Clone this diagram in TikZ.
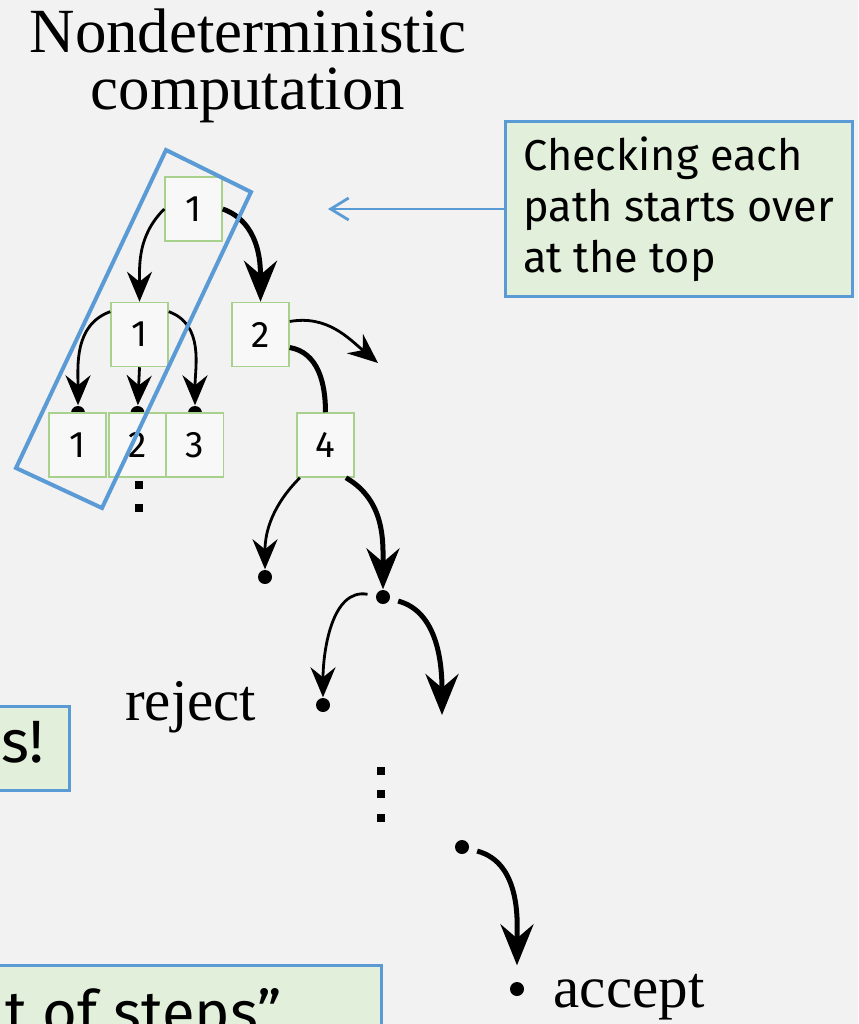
\documentclass[tikz,border=0pt]{standalone}
\usepackage{fontspec}
\setmainfont{Liberation Serif}
\setsansfont{Fira Sans}
\usetikzlibrary{arrows.meta}

\definecolor{slidebg}{HTML}{F2F2F2}
\definecolor{noteblue}{HTML}{5B9BD5}
\definecolor{notegreen}{HTML}{E2EFDA}
\definecolor{cellgreen}{HTML}{A9D18E}
\definecolor{cellfill}{HTML}{F8F8F8}

\tikzset{
	cell/.style={draw=cellgreen, line width=0.15mm, fill=cellfill, minimum width=5.7mm, minimum height=6.4mm, inner sep=0pt, font=\sffamily\fontsize{10.5}{12}\selectfont},
	leaf/.style={circle, fill=black, minimum size=1.4mm, inner sep=0pt},
	thinarc/.style={line width=0.28mm, -{Stealth[length=3mm,width=2.5mm,inset=1mm]}},
	thickline/.style={line width=0.5mm},
	thickarc/.style={thickline, -{Stealth[length=4.1mm,width=3.3mm,inset=1.4mm]}},
	note/.style={draw=noteblue, line width=0.3mm, fill=notegreen, font=\sffamily\fontsize{12.3}{14.5}\selectfont, align=left},
	bignote/.style={note, font=\sffamily\fontsize{17}{20}\selectfont},
	verdict/.style={inner sep=0pt, font=\fontsize{16.8}{19}\selectfont}
}

\begin{document}
\begin{tikzpicture}[x=0.1mm,y=0.1mm]
	\fill[slidebg] (0,0) rectangle (858,-1024);
	\useasboundingbox (0,0) rectangle (858,-1024);

	\node[align=center, inner sep=0pt, font=\fontsize{17.9}{16.2}\selectfont] (title) at (248,-66) {Nondeterministic\\computation};

	% first levels of the tree
	\node[cell] (root) at (193.5,-209) {1};
	\node[cell] (n1) at (139.5,-334.5) {1};
	\node[cell] (n2) at (260.5,-334.5) {2};
	% dots hidden behind the third row
	\node[leaf] (k1) at (78,-413) {};
	\node[leaf] (k2) at (137.5,-413) {};
	\node[leaf] (k3) at (195,-413) {};
	\node[cell] (n11) at (77.5,-445) {1};
	\node[cell] (n12) at (137.5,-445) {2};
	\node[cell] (n13) at (195,-445) {3};
	\node[cell] (n24) at (325.5,-445) {4};

	% leaves further down
	\node[leaf] (a) at (265,-577) {};
	\node[leaf] (b) at (383,-597) {};
	\node[leaf] (rej) at (323,-705) {};
	\node[leaf] (c) at (462,-847) {};
	\node[leaf] (acc) at (517,-989) {};
	\coordinate (o2) at (378,-363);
	\coordinate (ob) at (442,-715);

	\node[verdict, anchor=base east] (rejtext) at (257,-720) {reject};
	\node[verdict, anchor=base west] (acctext) at (553,-1007) {accept};

	\draw [thinarc] (root.west) to[out=225,in=90] (n1);
	\draw [thickarc] (root.east) to[out=-20,in=90] (n2);
	\draw [thinarc] (n1.142) to[out=200,in=90] (k1);
	\draw [thinarc] (n1.south) -- (k2);
	\draw [thinarc] (n1.38) to[out=-20,in=90] (k3);
	\draw [thinarc] (n2.24) to[out=10,in=140] (o2);
	\draw [thickline] (n2.-24) to[out=-10,in=90] (n24);
	\draw [thinarc] (n24.-128) to[out=225,in=90] (a);
	\draw [thickarc] (n24.-58) to[out=-30,in=90] (b);
	\draw [thinarc, shorten <=0.8mm] (b) to[out=170,in=90] (rej);
	\draw [thickarc, shorten <=0.8mm] (b) to[out=-15,in=90] (ob);
	\draw [thickarc, shorten <=0.8mm, shorten >=1.6mm] (c) to[out=-15,in=90] (acc);

	% vertical dots
	\foreach \y in {771,794,818}
		\fill (381,-\y) +(-4,-4) rectangle +(4,4);
	\foreach \y in {485,508}
		\fill (139,-\y) +(-4,-4) rectangle +(4,4);

	% the path that is checked
	\draw [noteblue, line width=0.4mm] (166,-150) -- (251,-192) -- (102,-508) -- (16,-468) -- cycle;

	\node[note, minimum width=34.7mm, minimum height=17.4mm] (chk) at (678.5,-209) {Checking each\\path starts over\\at the top};
	\coordinate (chktip) at (328,-209);
	\draw [noteblue, line width=0.28mm, line cap=round, -{Straight Barb[length=1.8mm,width=2.2mm]}] (chk.west) -- (chktip);

	\node[bignote, inner xsep=2.6mm, minimum height=8.4mm, anchor=east] (steps1) at (71,-748) {ps!};
	\node[bignote, anchor=base east, text height=4.6mm, inner xsep=10mm, inner ysep=2.2mm] (steps2) at (383,-1033) {t of steps”};
\end{tikzpicture}
\end{document}
